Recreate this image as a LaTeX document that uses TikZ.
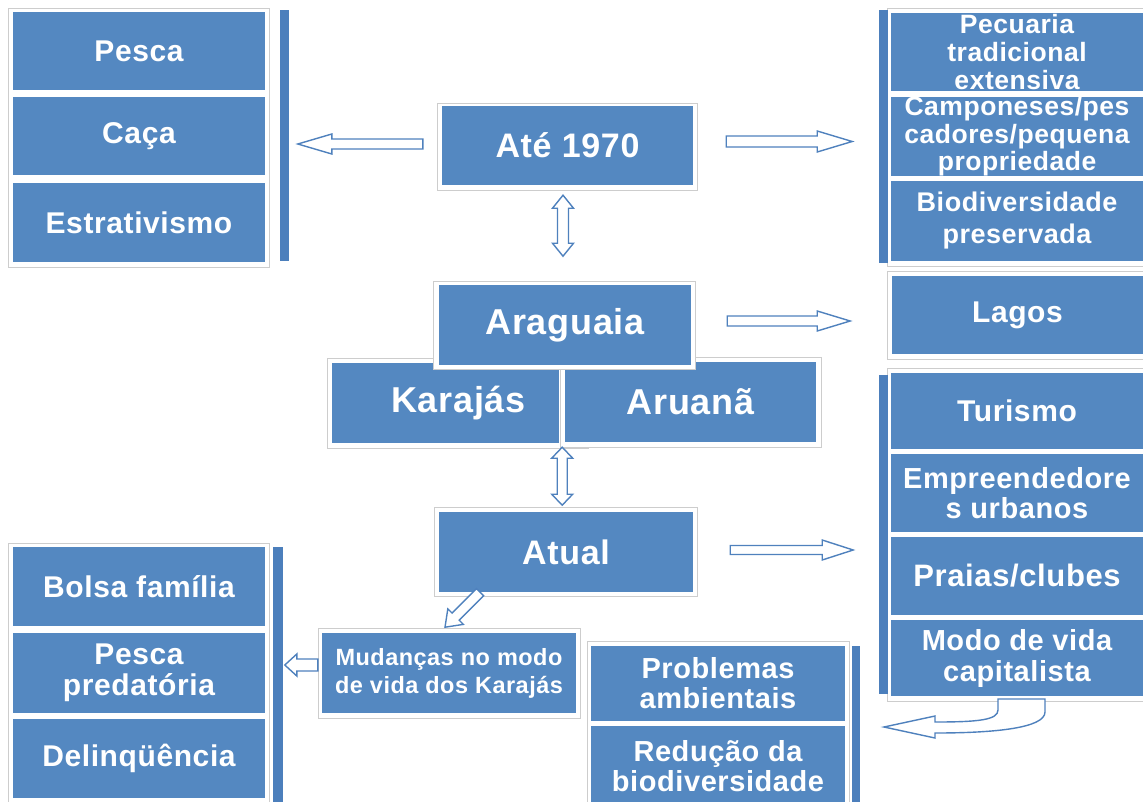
\documentclass[tikz,border=0pt]{standalone}
\usepackage{fontspec}
\setmainfont[LetterSpace=2]{Liberation Sans}
\usetikzlibrary{calc}
\definecolor{boxblue}{RGB}{84,136,193}
\definecolor{barblue}{RGB}{76,127,188}
\definecolor{arrblue}{RGB}{79,129,189}
\definecolor{framegray}{RGB}{205,205,205}
% block arrow: #1 start, #2 angle, #3 length, #4 half shaft, #5 half head, #6 head length
\newcommand\barrow[6]{\draw[arr, shift={#1}, rotate=#2] (0,-#4) -- ({#3-#6},-#4) -- ({#3-#6},-#5) -- (#3,0) -- ({#3-#6},#5) -- ({#3-#6},#4) -- (0,#4) -- cycle;}
% double block arrow
\newcommand\darrow[6]{\draw[arr, shift={#1}, rotate=#2] (0,0) -- (#6,#5) -- (#6,#4) -- ({#3-#6},#4) -- ({#3-#6},#5) -- (#3,0) -- ({#3-#6},-#5) -- ({#3-#6},-#4) -- (#6,-#4) -- (#6,-#5) -- cycle;}
\begin{document}
\begin{tikzpicture}[x=1pt,y=-1pt,
  bbox/.style={fill=boxblue, text=white, inner sep=0pt, align=center},
  fs/.style 2 args={font=\bfseries\fontsize{#1}{#2}\selectfont},
  frame/.style={draw=framegray, fill=white, line width=0.9pt},
  bar/.style={fill=barblue, draw=none},
  arr/.style={draw=arrblue, fill=white, line width=1.4pt, line join=miter}]
\useasboundingbox (0,0) rectangle (1143,801);

% ---------- left top group
\draw[frame] (8,8) rectangle (269,267);
\node[bbox, fs={30}{32}, minimum width=252, minimum height=78] (lt1) at (139,51) {Pesca};
\node[bbox, fs={30}{32}, minimum width=252, minimum height=78] (lt2) at (139,136) {Caça};
\node[bbox, fs={30}{32}, minimum width=252, minimum height=79] (lt3) at (139,222.5) {Estrativismo};
\fill[bar] (280,10) rectangle (289,261);

% ---------- Até 1970
\draw[frame] (437,103) rectangle (697,190);
\node[bbox, fs={34}{36}, minimum width=251, minimum height=79] (ate) at (567.5,145.5) {Até 1970};

% ---------- right top group
\draw[frame] (887,8) rectangle (1150,266);
\fill[bar] (879,10) rectangle (888,263);
\node[bbox, fs={26.5}{28}, minimum width=252, minimum height=78] (rt1) at (1017,52) {Pecuaria\\tradicional\\extensiva};
\node[bbox, fs={26.5}{27.5}, minimum width=252, minimum height=79] (rt2) at (1017,136.5) {Camponeses/pes\\cadores/pequena\\propriedade};
\node[bbox, fs={27}{32}, minimum width=252, minimum height=80] (rt3) at (1017,221) {Biodiversidade\\preservada};

% ---------- Lagos
\draw[frame] (887,271) rectangle (1150,359);
\node[bbox, fs={30}{32}, minimum width=252, minimum height=78] (lagos) at (1017.5,315) {Lagos};

% ---------- Karajás / Aruanã / Araguaia
\draw[frame] (327,358) rectangle (588,448);
\draw[frame] (560,357) rectangle (821,447);
\node[bbox, fs={36}{38}, minimum width=227, minimum height=80] (kar) at (445.5,403) {\hspace*{26pt}Karajás};
\node[bbox, fs={36}{38}, minimum width=251, minimum height=80] (aru) at (690.5,402) {Aruanã};
\draw[frame] (433,281) rectangle (695,369);
\node[bbox, fs={36}{38}, minimum width=252, minimum height=80] (arag) at (565,325) {Araguaia};

% ---------- Atual
\draw[frame] (434,507) rectangle (697,596);
\node[bbox, fs={34}{36}, minimum width=254, minimum height=80] (atual) at (566,552) {Atual};

% ---------- Mudanças
\draw[frame] (318,628) rectangle (580,718);
\node[bbox, fs={23.5}{28}, minimum width=254, minimum height=80] (mud) at (449,673) {Mudanças no modo\\de vida dos Karajás};

% ---------- Problemas group
\draw[frame] (587,641) rectangle (849,820);
\node[bbox, fs={29}{30}, minimum width=254, minimum height=75] (pb1) at (718,683.5) {Problemas\\ambientais};
\node[bbox, fs={29}{30}, minimum width=254, minimum height=80] (pb2) at (718,766) {Redução da\\biodiversidade};
\fill[bar] (852,646) rectangle (860,810);

% ---------- right bottom group
\draw[frame] (887,368) rectangle (1150,701);
\fill[bar] (879,375) rectangle (888,694);
\node[bbox, fs={30}{32}, minimum width=252, minimum height=76] (rb1) at (1017,411) {Turismo};
\node[bbox, fs={29}{30}, minimum width=252, minimum height=78] (rb2) at (1017,493) {Empreendedore\\s urbanos};
\node[bbox, fs={31}{32}, minimum width=252, minimum height=78] (rb3) at (1017,576) {Praias/clubes};
\node[bbox, fs={29}{31}, minimum width=252, minimum height=76] (rb4) at (1017,658) {Modo de vida\\capitalista};

% ---------- left bottom group
\draw[frame] (8,543) rectangle (269,820);
\node[bbox, fs={30}{32}, minimum width=252, minimum height=79] (lb1) at (139,586.5) {Bolsa família};
\node[bbox, fs={30}{31}, minimum width=252, minimum height=80] (lb2) at (139,673) {Pesca\\predatória};
\node[bbox, fs={30}{32}, minimum width=252, minimum height=79] (lb3) at (139,758.5) {Delinqüência};
\fill[bar] (273,547) rectangle (283,810);

% ---------- arrows
\barrow{($(ate.west)+(-19,-1.5)$)}{180}{125}{5}{10}{34}
\barrow{($(ate.east)+(33,-4)$)}{0}{126}{5.5}{10.5}{35}
\barrow{($(arag.east)+(36,-4)$)}{0}{123}{5}{10}{33}
\barrow{($(atual.east)+(37,-2)$)}{0}{123}{4.5}{10}{31}
\darrow{($(ate.south)+(-4.5,10)$)}{270}{61}{5.5}{10.5}{13}
\darrow{($(kar.south east)+(3,4)$)}{270}{58}{5}{10.5}{11}
\barrow{($(atual.south)+(-86,0)$)}{225}{49.5}{5}{11}{15}
\barrow{($(mud.west)+(-4,-8)$)}{180}{33}{6}{11}{12}
\draw[arr] (998,699) -- (1045,699) -- (1045,712)
  .. controls (1045,728) and (995,733) .. (935,733) -- (935,738) -- (884,727) -- (935,716) -- (935,722)
  .. controls (978,722) and (998,720) .. (998,710) -- cycle;
\end{tikzpicture}
\end{document}
